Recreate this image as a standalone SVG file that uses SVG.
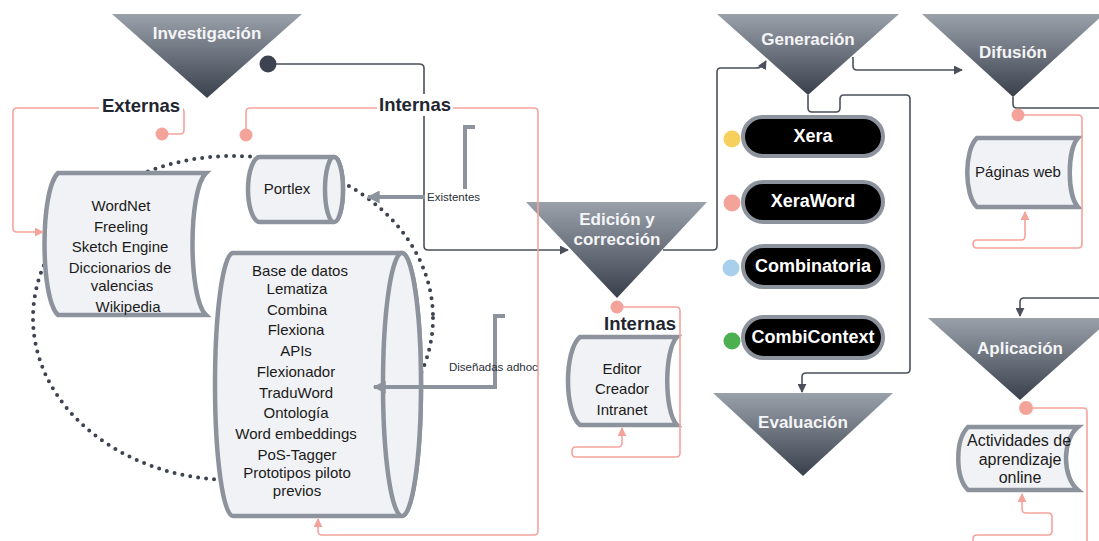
<svg xmlns="http://www.w3.org/2000/svg" width="1099" height="541" viewBox="0 0 1099 541">
<defs>
<linearGradient id="tri" x1="0" y1="0" x2="0" y2="1">
<stop offset="0" stop-color="#9ba1ab"/>
<stop offset="1" stop-color="#3a404b"/>
</linearGradient>
<marker id="ad" viewBox="0 0 10 10" refX="9" refY="5" markerWidth="9" markerHeight="9" markerUnits="userSpaceOnUse" orient="auto"><path d="M0,0 L10,5 L0,10 Z" fill="#4a505b"/></marker>
<marker id="ap" viewBox="0 0 10 10" refX="9" refY="5" markerWidth="9" markerHeight="9" markerUnits="userSpaceOnUse" orient="auto"><path d="M0,0 L10,5 L0,10 Z" fill="#f4a39b"/></marker>
<marker id="ag" viewBox="0 0 10 10" refX="9" refY="5" markerWidth="15" markerHeight="13" markerUnits="userSpaceOnUse" orient="auto"><path d="M0,0 L10,5 L0,10 Z" fill="#8c939c"/></marker>
<style>
.tri{fill:url(#tri)}
.tt{font-family:"Liberation Sans",Arial,sans-serif;font-weight:bold;font-size:17px;fill:#f4f5f7;text-anchor:middle}
.lbl{font-family:"Liberation Sans",Arial,sans-serif;font-weight:bold;font-size:18.5px;fill:#1f2630;text-anchor:middle}
.bx{fill:#f1f2f5;stroke:#8c939c;stroke-width:4.5}
.bt{font-family:"Liberation Sans",Arial,sans-serif;font-size:15px;fill:#1a1a1a;text-anchor:middle}
.pill{fill:#000;stroke:#8c939c;stroke-width:4}
.pt{font-family:"Liberation Sans",Arial,sans-serif;font-weight:bold;font-size:18px;fill:#fff;text-anchor:middle}
.dk{fill:none;stroke:#4a505b;stroke-width:1.6}
.pk{fill:none;stroke:#f4a39b;stroke-width:1.6}
.gr{fill:none;stroke:#8c939c;stroke-width:4}
.sm{font-family:"Liberation Sans",Arial,sans-serif;font-size:11.5px;fill:#2a2f38}
.pd{fill:#f4a39b}
</style>
</defs>
<rect width="1099" height="541" fill="#fff"/>

<g id="dotted-ellipse">
<ellipse cx="233" cy="318" rx="200" ry="162" fill="none" stroke="#3d4350" stroke-width="4" stroke-dasharray="0 8" stroke-linecap="round"/>
</g>

<g id="investigacion">
<polygon class="tri" points="112,14 302,14 207,98"/>
<text class="tt" x="207" y="39">Investigación</text>
</g>

<g id="externas-box">
<path class="bx" d="M58,173 L206,173 C188,190 188,298 206,315 L58,315 C40,298 40,190 58,173 Z"/>
<text class="bt" x="121" y="211">WordNet</text>
<text class="bt" x="121" y="232">Freeling</text>
<text class="bt" x="120" y="252">Sketch Engine</text>
<text class="bt" x="120" y="273">Diccionarios de</text>
<text class="bt" x="122" y="291">valencias</text>
<text class="bt" x="128" y="312">Wikipedia</text>
</g>

<g id="portlex">
<path class="bx" d="M260,157 L334,157 A9,32.5 0 0 1 334,222 L260,222 A12,32.5 0 0 1 260,157 Z"/>
<ellipse class="bx" cx="334" cy="189.5" rx="9" ry="32.5" fill="none"/>
<text class="bt" x="287" y="194">Portlex</text>
</g>

<g id="base-datos">
<path class="bx" d="M233,253 L402,253 A19,131.5 0 0 1 402,516 L233,516 A18,131.5 0 0 1 233,253 Z"/>
<ellipse class="bx" cx="402" cy="384.5" rx="19" ry="131.5" fill="none"/>
<text class="bt" x="300" y="276">Base de datos</text>
<text class="bt" x="297" y="294">Lematiza</text>
<text class="bt" x="297" y="315">Combina</text>
<text class="bt" x="296" y="335">Flexiona</text>
<text class="bt" x="296" y="356">APIs</text>
<text class="bt" x="296" y="377">Flexionador</text>
<text class="bt" x="296" y="398">TraduWord</text>
<text class="bt" x="296" y="418">Ontología</text>
<text class="bt" x="296" y="439">Word embeddings</text>
<text class="bt" x="297" y="460">PoS-Tagger</text>
<text class="bt" x="297" y="478">Prototipos piloto</text>
<text class="bt" x="297" y="496">previos</text>
</g>

<g id="edicion">
<polygon class="tri" points="526,202 707,202 617,298"/>
<text class="tt" x="617" y="225">Edición y</text>
<text class="tt" x="617" y="245">corrección</text>
</g>
<g id="internas-edicion">
<text class="lbl" x="640" y="330">Internas</text>
<path class="bx" d="M580,337 L677,337 C664,350 664,412 677,425 L580,425 C564,412 564,350 580,337 Z"/>
<text class="bt" x="622" y="374">Editor</text>
<text class="bt" x="622" y="394">Creador</text>
<text class="bt" x="622" y="415">Intranet</text>
</g>

<g id="generacion">
<polygon class="tri" points="717,14 899,14 808,95"/>
<text class="tt" x="808" y="45">Generación</text>
</g>
<g id="xera">
<circle cx="732" cy="139" r="8.5" fill="#f7cf5c"/>
<rect class="pill" x="743" y="117" width="140" height="39" rx="19.5"/>
<text class="pt" x="813" y="142">Xera</text>
</g>
<g id="xeraword">
<circle cx="732" cy="203" r="8.5" fill="#f4a39b"/>
<rect class="pill" x="743" y="182" width="140" height="40" rx="20"/>
<text class="pt" x="813" y="207">XeraWord</text>
</g>
<g id="combinatoria">
<circle cx="731" cy="268" r="8.5" fill="#a8cfec"/>
<rect class="pill" x="743" y="246" width="140" height="41" rx="20.5"/>
<text class="pt" x="813" y="272">Combinatoria</text>
</g>
<g id="combicontext">
<circle cx="732" cy="341" r="8.5" fill="#4caf50"/>
<rect class="pill" x="743" y="317" width="140" height="41" rx="20.5"/>
<text class="pt" x="813" y="343">CombiContext</text>
</g>

<g id="evaluacion">
<polygon class="tri" points="713,393 893,393 803,476"/>
<text class="tt" x="803" y="428">Evaluación</text>
</g>

<g id="difusion">
<polygon class="tri" points="922,14 1104,14 1013,97"/>
<text class="tt" x="1013" y="58">Difusión</text>
</g>
<g id="paginas-web">
<path class="bx" d="M977,138 L1078,138 C1067,150 1067,195 1078,207 L977,207 C964,195 964,150 977,138 Z"/>
<text class="bt" x="1018" y="177">Páginas web</text>
</g>

<g id="aplicacion">
<polygon class="tri" points="928,318 1112,318 1020,400"/>
<text class="tt" x="1020" y="354">Aplicación</text>
</g>
<g id="actividades">
<path class="bx" d="M968,427 L1078,427 C1062,440 1062,477 1078,490 L968,490 C955,477 955,440 968,427 Z"/>
<text class="bt" x="1019" y="446" style="font-size:16px">Actividades de</text>
<text class="bt" x="1020" y="465" style="font-size:16px">aprendizaje</text>
<text class="bt" x="1020" y="483" style="font-size:16px">online</text>
</g>

<g id="connectors">
<path class="dk" d="M268,64 L419,64 Q424,64 424,68 L424,246 Q424,250 428,250 L568,250" marker-end="url(#ad)"/>
<path class="dk" d="M663,250 L713,250 Q717,250 717,246 L717,72 Q717,68 721,68 L756,68 Q762,68 766,61" marker-end="url(#ad)"/>
<path class="dk" d="M853,57 L853,66 Q853,70 857,70 L962,70" marker-end="url(#ad)"/>
<path class="dk" d="M808,95 L808,108 Q808,112 812,112 L836,112 Q840,112 840,108 L840,99 Q840,95 844,95 L906,95 Q910,95 910,99 L910,369 Q910,373 906,373 L806,373 Q802,373 802,377 L802,392" marker-end="url(#ad)"/>
<path class="dk" d="M1013,97 L1013,104 Q1013,108 1017,108 L1099,108"/>
<path class="dk" d="M1099,298 L1024,298 Q1020,298 1020,302 L1020,316" marker-end="url(#ad)"/>
<path class="pk" d="M162,134 L180,134 Q184,134 184,130 L184,112 Q184,108 180,108 L17,108 Q13,108 13,112 L13,228 Q13,232 17,232 L43,232" marker-end="url(#ap)"/>
<path class="pk" d="M246,135 L246,112 Q246,108 250,108 L534,108 Q538,108 538,112 L538,531 Q538,535 534,535 L322,535 Q318,535 318,531 L318,519" marker-end="url(#ap)"/>
<path class="pk" d="M617,307 L676,307 Q680,307 680,311 L680,453 Q680,457 676,457 L576,457 Q572,457 572,453 L572,451 Q572,447 576,447 L618,447 Q622,447 622,443 L622,428" marker-end="url(#ap)"/>
<path class="pk" d="M1018,115 L1078,115 Q1082,115 1082,119 L1082,244 Q1082,248 1078,248 L977,248 Q973,248 973,244 Q973,240 977,240 L1021,240 Q1025,240 1025,236 L1025,212" marker-end="url(#ap)"/>
<path class="pk" d="M1026,408 L1083,408 Q1087,408 1087,412 L1087,541"/>
<path class="pk" d="M973,541 L973,539 Q973,535 977,535 L1048,535 Q1052,535 1052,531 L1052,517 Q1052,513 1048,513 L1026,513 Q1022,513 1022,509 L1022,494" marker-end="url(#ap)"/>
<path class="gr" d="M475,127 L465,127 L465,197 L368,197" marker-end="url(#ag)"/>
<path class="gr" d="M505,316 L495,316 L495,387 L374,387" marker-end="url(#ag)"/>
<circle cx="268" cy="64" r="8.5" fill="#3d4350"/>
<circle class="pd" cx="162" cy="134" r="6.5"/>
<circle class="pd" cx="246" cy="135" r="6.5"/>
<circle class="pd" cx="617" cy="307" r="6.5"/>
<circle class="pd" cx="1018" cy="115" r="6.5"/>
<circle class="pd" cx="1026" cy="408" r="7"/>
<rect x="425" y="189" width="58" height="15" fill="#fff"/>
<text class="sm" x="427" y="201">Existentes</text>
<text class="sm" x="449" y="371">Diseñadas adhoc</text>
</g>

<g id="externas-label">
<rect x="99" y="95" width="84" height="22" fill="#fff"/>
<text class="lbl" x="141" y="112">Externas</text>
</g>
<g id="internas-label">
<rect x="377" y="94" width="76" height="22" fill="#fff"/>
<text class="lbl" x="415" y="111">Internas</text>
</g>
</svg>
